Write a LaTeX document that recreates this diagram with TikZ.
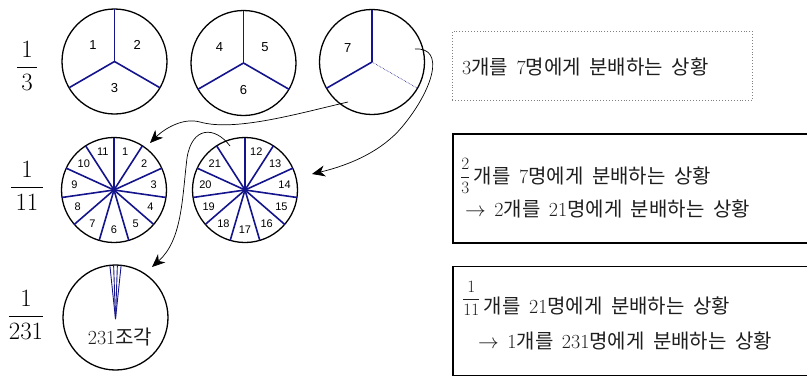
\documentclass[tikz,border=0pt]{standalone}
\usepackage{fontspec}
\newfontfamily\kr{Noto Sans CJK KR}
\newfontfamily\arial{Liberation Sans}
\usetikzlibrary{arrows.meta,calc}
\definecolor{spoke}{RGB}{20,20,140}
\definecolor{ink}{RGB}{30,30,30}
\newcommand\widesp{\spaceskip 8.5pt\relax}
\newcommand\smallfrac[3]{{\fontsize{18}{21}\selectfont\raisebox{#3}{$\displaystyle\frac{#1}{#2}$}}}
\begin{document}
\begin{tikzpicture}[x=1pt,y=1pt,
  pie/.style={circle,draw=black,line width=1.3pt,minimum size=105pt,inner sep=0pt,outer sep=0pt},
  spk/.style={draw=spoke,line width=1.6pt},
  thinspk/.style={draw=spoke,line width=0.9pt},
  num/.style={font=\arial\fontsize{13}{15}\selectfont,inner sep=0pt},
  snum/.style={font=\arial\fontsize{11}{13}\selectfont,inner sep=0pt},
  bigfrac/.style={font=\fontsize{24}{28}\selectfont,inner sep=0pt},
  txt/.style={anchor=base west,font=\fontsize{20}{24}\selectfont\widesp,inner sep=0pt,text=ink},
  curv/.style={draw=black,line width=0.7pt,-{Stealth[length=13pt,width=11pt,inset=4pt]}},
  solidbox/.style={draw=black,line width=1.8pt,anchor=north west,inner sep=0pt},
  dotbox/.style={draw=gray,dotted,line width=0.9pt,anchor=north west,inner sep=0pt}]
\useasboundingbox (0,0) rectangle (807,-376);

% fractions at left
\node[bigfrac] (f1) at (27,-66) {$\displaystyle\frac{\,1\,}{\,3\,}$};
\node[bigfrac] (f2) at (27,-186) {$\displaystyle\frac{\,1\,}{\,11\,}$};
\node[bigfrac] (f3) at (26,-315) {$\displaystyle\frac{1}{231}$};

% circles
\node[pie] (c1) at (114.5,-61.5) {};
\node[pie] (c2) at (243.5,-63) {};
\node[pie] (c3) at (372,-62) {};
\node[pie] (c4) at (114,-190) {};
\node[pie] (c5) at (245,-190) {};
\node[pie] (c6) at (115.5,-317.5) {};

% thirds
\foreach \c in {c1,c2}{
  \foreach \a in {90,210,330} \draw[spk] (\c.center) -- ++(\a:52.5);
}
\draw[spk] (c3.center) -- ++(90:52.5);
\draw[spk] (c3.center) -- ++(210:52.5);
\draw[draw=spoke,line width=0.6pt,densely dotted] (c3.center) -- ++(330:52.5);

\node[num] (n1) at ($(c1.center)+(143:27)$) {1};
\node[num] (n2) at ($(c1.center)+(36:28)$) {2};
\node[num] (n3) at ($(c1.center)+(270:26.5)$) {3};
\node[num] (n4) at ($(c2.center)+(146:29)$) {4};
\node[num] (n5) at ($(c2.center)+(37:27)$) {5};
\node[num] (n6) at ($(c2.center)+(270:27)$) {6};
\node[num] (n7) at ($(c3.center)+(150:28)$) {7};

% elevenths
\foreach \k [evaluate=\k as \ang using 90-\k*360/11] in {0,...,10}{
  \draw[spk] (c4.center) -- ++(\ang:52.5);
  \draw[spk] (c5.center) -- ++(\ang:52.5);
}
\foreach \k [evaluate=\k as \ang using 90-(\k-0.5)*360/11] in {1,...,11}{
  \node[snum] (p\k) at ($(c4.center)+(\ang:40)$) {\k};
}
\foreach \k [evaluate=\k as \ang using 90-(\k-0.5)*360/11, evaluate=\k as \lab using int(\k+11)] in {1,...,10}{
  \node[snum] (q\k) at ($(c5.center)+(\ang:40)$) {\lab};
}

% 231 pieces
\foreach \a in {84,88,92,96} \draw[thinspk] ($(c6.center)+(0,-1.5)$) -- ++(\a:54);
\node[font=\fontsize{20}{24}\selectfont,inner sep=0pt,text=ink] (lab231) at (120,-337) {231{\kr 조각}};

% curved arrows
\coordinate (a1s) at (348,-102);
\coordinate (a1m) at (200,-122);
\coordinate (a1e) at (150,-143);
\draw[curv] (a1s) .. controls (300,-113) and (235,-132) .. (a1m) .. controls (182,-117) and (163,-130) .. (a1e);

\coordinate (a2s) at (415,-49);
\coordinate (a2m) at (402,-127);
\coordinate (a2e) at (312,-174);
\draw[curv] (a2s) .. controls (446,-47) and (433,-90) .. (a2m) .. controls (382,-151) and (350,-165) .. (a2e);

\coordinate (a3s) at (230,-146);
\coordinate (a3m) at (187,-158);
\coordinate (a3e) at (152,-267);
\draw[curv] (a3s) .. controls (215,-126) and (192,-126) .. (a3m) .. controls (182,-200) and (182,-240) .. (a3e);

% boxes
\node[dotbox,minimum width=300pt,minimum height=69pt] (b1) at (452,-31) {};
\node[solidbox,minimum width=365pt,minimum height=109pt] (b2) at (452,-133) {};
\node[solidbox,minimum width=365pt,minimum height=109pt] (b3) at (452,-265.5) {};

\node[txt] (t1) at (462,-74) {3{\kr 개를} 7{\kr 명에게 분배하는 상황}};
\node[txt] (t2a) at (460,-183) {\smallfrac{2}{3}{1.5pt}\,{\kr 개를} 7{\kr 명에게 분배하는 상황}};
\node[txt] (t2b) at (465,-216) {$\rightarrow$ 2{\kr 개를} 21{\kr 명에게 분배하는 상황}};
\node[txt] (t3a) at (462,-313) {\smallfrac{1}{11}{9pt}\,{\kr 개를} 21{\kr 명에게 분배하는 상황}};
\node[txt] (t3b) at (478,-348) {$\rightarrow$ 1{\kr 개를} 231{\kr 명에게 분배하는 상황}};
\end{tikzpicture}
\end{document}
